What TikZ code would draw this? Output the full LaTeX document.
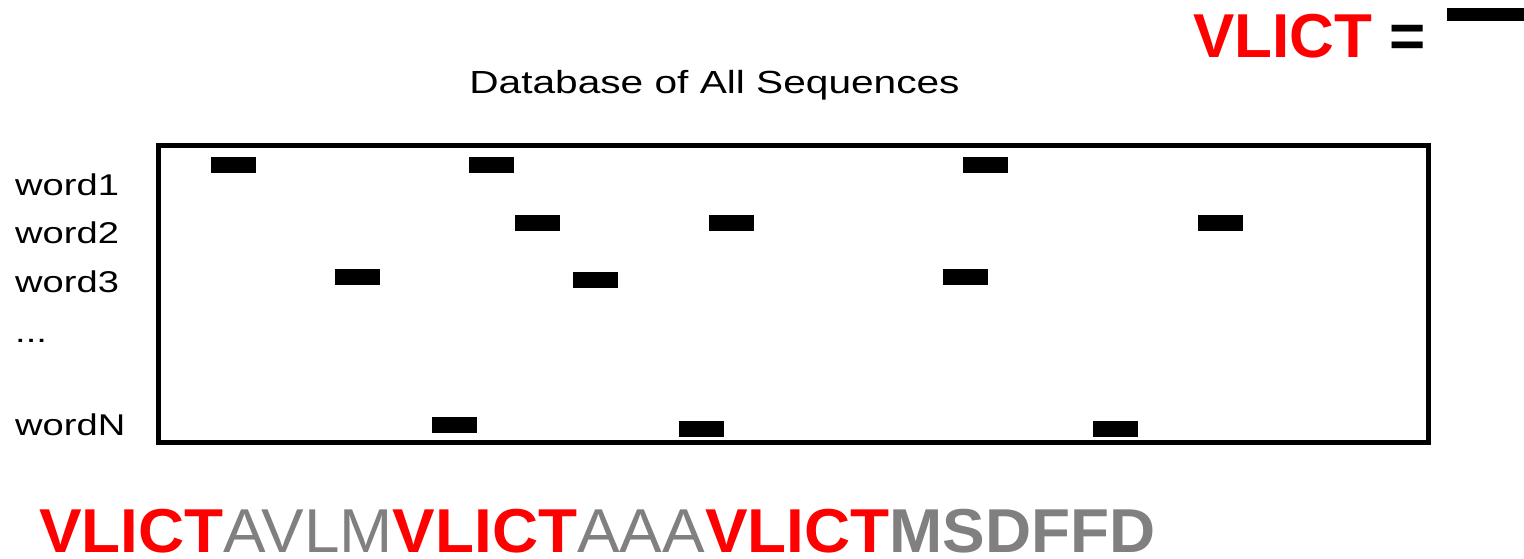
\documentclass[tikz,border=0pt]{standalone}
\usepackage{graphicx}
\usepackage{xcolor}
\usepackage{fontspec}
\setmainfont{Liberation Sans}
\usepackage{tikz}

\newcommand{\wide}[1]{\scalebox{1.27}[1]{#1}}

\begin{document}
\begin{tikzpicture}[x=1pt,y=-1pt]
\tikzstyle{hit}=[rectangle, fill=black, minimum width=45pt, minimum height=16pt, inner sep=0pt]
\tikzstyle{rowlabel}=[anchor=base west, inner sep=0pt, font=\fontsize{30}{30}\selectfont]
\tikzstyle{big}=[anchor=base west, inner sep=0pt, font=\fontsize{62}{62}\selectfont]
\useasboundingbox (0,0) rectangle (1524,558);
\node[draw, line width=5pt, minimum width=1270pt, minimum height=297pt, inner sep=0pt] (db) at (793,293.5) {};
\node[anchor=base, inner sep=0pt, font=\fontsize{32}{32}\selectfont] (title) at (714.5,93) {\wide{Database of All Sequences}};
\foreach \name/\y in {1/195,2/243,3/292}
    \node[rowlabel] (w\name) at (15,\y) {\wide{word\name}};
\node[rowlabel] (wdots) at (15,342) {\wide{...}};
\node[rowlabel] (wN) at (15,435) {\wide{wordN}};
\foreach \x/\y [count=\i] in {233/165,491/165,985/165,537/223,731/223,1220/223,357/277,595/280,965/277,454/425,701/429,1115/429}
    \node[hit] (hit\i) at (\x,\y) {};
\node[big] (query) at (1193,57) {\bfseries\textcolor{red}{VLICT} =};
\node[hit, minimum width=77pt, minimum height=13pt, anchor=north west] (legend) at (1447,8) {};
\node[big] (seq) at (39,552) {\scalebox{1.03}[1]{\textcolor{red}{\bfseries VLICT}\textcolor{gray}{AVLM}\textcolor{red}{\bfseries VLICT}\textcolor{gray}{AAA}\textcolor{red}{\bfseries VLICT}\textcolor{gray}{\bfseries MSDFFD}}};
\end{tikzpicture}
\end{document}
